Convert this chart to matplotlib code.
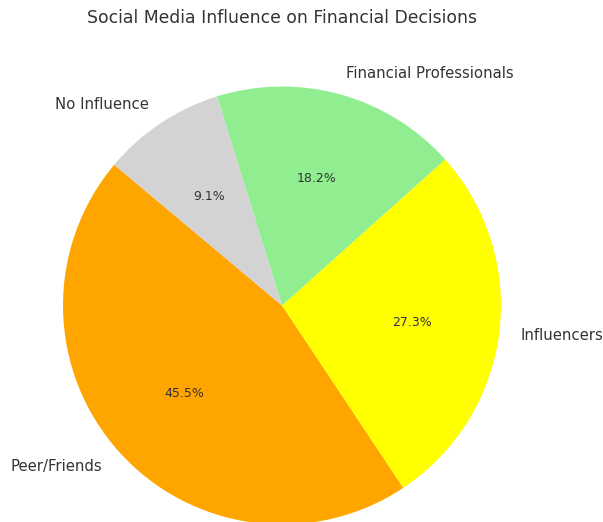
import matplotlib
matplotlib.use("Agg")
import matplotlib.pyplot as plt

labels = ["Peer/Friends", "Influencers", "Financial Professionals", "No Influence"]
values = [50, 30, 20, 10]
colors = ["orange", "yellow", "lightgreen", "lightgrey"]
title = "Social Media Influence on Financial Decisions"

W, H = 603, 522
fig = plt.figure(figsize=(W / 100, H / 100), dpi=100)
ax = fig.add_axes([0, 0, 1, 1])

wedges, texts, autotexts = ax.pie(
    values, labels=labels, colors=colors, autopct="%1.1f%%",
    startangle=140, textprops={"color": "#333333"},
)
for t in texts:
    t.set_fontsize(10.7)
for t in autotexts:
    t.set_fontsize(9)

# pie centre at (282, 305.5) px, radius 219 px
cx, cy, r = 282, 305.5, 219
ax.set_xlim(-cx / r, (W - cx) / r)
ax.set_ylim(-(H - cy) / r, cy / r)
ax.axis("off")

ax.text(0, (cy - 18.5) / r, title, ha="center", va="center",
        fontsize=12.4, color="#333333")

fig.savefig("out.png", dpi=100)
